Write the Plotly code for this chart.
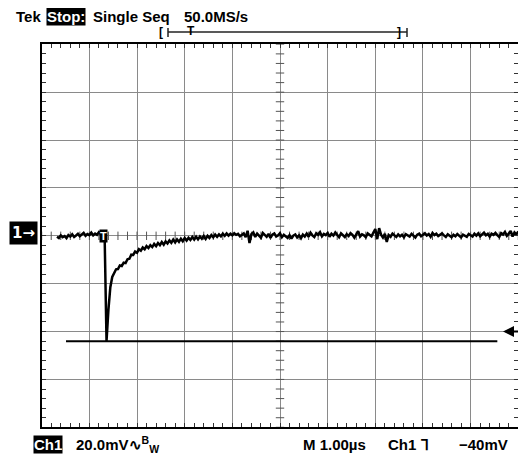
import numpy as np
import plotly.graph_objects as go

# page is shown with an 8 px body margin; lay the figure out in window pixels
OX, OY = 8, 8
WIN_W, WIN_H = 526, 457
W, H = WIN_W - OX, WIN_H - OY

# ---- scope settings / data ----
US_PER_DIV = 1.0      # horizontal: 1.00 us / div, 10 divisions
MV_PER_DIV = 20.0     # vertical: 20.0 mV / div, 8 divisions
X_DIVS = 10
Y_DIVS = 8

T0 = 0.32             # time of first displayed sample (us from left edge)
DT = 0.04             # displayed sample interval (us)

ch1_mv = [
    -0.4, -0.9, 0.2, -0.6, -0.1, -1.0, 0.3, -0.3, 0.6, -0.5,
    0.1, 0.8, -0.2, 0.5, 1.2, 0.0, 0.7, 0.3, 1.3, 0.2,
    0.9, 0.4, 1.5, 0.6, 0.9, 0.5,
    -44.0, -31.0, -21.5, -17.2, -15.8, -14.0, -13.9, -12.4, -12.6, -11.2,
    -11.4, -9.8, -9.6, -7.9, -8.0, -6.6, -7.1, -5.6, -6.2, -4.9,
    -5.6, -4.3, -5.1, -3.9, -4.7, -3.4, -4.3, -3.0, -3.9, -2.6,
    -3.7, -2.3, -3.2, -1.9, -2.9, -1.6, -2.8, -1.5, -2.5, -1.2,
    -2.3, -0.9, -2.0, -0.8, -1.7, -0.5, -1.6, -0.4, -1.5, -0.3,
    -1.2, -0.1, -1.3, 0.0, -0.9, 0.3, -0.6, 0.5, -0.4, 0.6,
    -0.2, 0.9, 0.0, 1.0, 0.1,
    0.9, 0.2, 1.1, 0.4, 0.8, -0.2, 0.6, 1.0, -0.6, 2.1,
    -3.0, 0.7, 1.4, -0.5, 0.9, 0.1, -0.8, 1.2, 0.3, -0.4,
    0.8, -0.9, 0.5, 1.0, -0.3, 0.2, 1.1, -0.6, 0.4, -0.2,
    -0.9, 0.3, -1.2, 0.1, 0.6, -0.7, 0.2, -1.0, 0.5, -0.3,
    0.9, -0.4, 1.3, 0.2, -0.5, 1.1, 0.4, 1.5, -0.2, 0.8,
    0.3, 1.2, -0.4, 0.9, 0.1, 1.4, 0.5, -0.6, 1.0, 0.2,
    -0.5, 0.7, -0.1, 1.1, 0.4, -0.8, 0.9, 1.9, -0.3, 0.6,
    0.2, -0.6, 1.0, 0.4, -0.2, 1.3, 2.8, -1.4, 3.2, 0.5,
    -0.7, 0.8, -2.6, 0.3, -0.4, 0.9, 0.1, -0.5, 0.6, -0.2,
    0.4, -0.6, 0.7, 0.0, -0.3, 0.8, 0.2, -0.7, 0.5, 0.9,
    -0.2, 0.6, 1.1, 0.1, 0.7, -0.4, 1.2, 0.3, 0.9, -0.1,
    0.5, 1.0, 0.2, -0.5, 0.6, 0.1, -0.6, 0.4, -0.2, 0.7,
    0.0, -0.7, 0.5, 0.2, -0.4, 0.8, 0.3, -0.3, 0.9, 0.1,
    1.0, -0.2, 0.6, 1.3, 0.2, 0.8, -0.4, 0.9, 0.4, 1.2,
    0.3, -0.5, 1.1, 0.5, 1.6, 0.0, 0.9, 2.0, -0.3, 1.4,
    0.6, 1.8,
]
t_us = T0 + DT * np.arange(len(ch1_mv))

trigger_t_us = 1.29
trigger_level_mv = -40
cursor_mv = -44
cursor_t_us = [0.51, 9.56]

header_texts = ["Tek", "Stop:", "Single Seq", "50.0MS/s"]
footer_texts = ["Ch1", "20.0mV", "M 1.00µs", "Ch1", "−40mV"]

# ---- figure ----
FONT = "Liberation Sans, Arial, Helvetica, sans-serif"
x_max = X_DIVS * US_PER_DIV
y_half = Y_DIVS / 2 * MV_PER_DIV


def px(x):
    return (x - OX) / W


def py(y):
    return 1 - (y - OY) / H


fig = go.Figure()

# centre graticule tick marks
cx = np.arange(0, X_DIVS * 5 + 1) * US_PER_DIV / 5
cy = (np.arange(0, Y_DIVS * 5 + 1) - Y_DIVS * 5 / 2) * MV_PER_DIV / 5
fig.add_trace(go.Scatter(x=cx, y=np.zeros_like(cx), mode="markers", hoverinfo="skip",
                         marker=dict(symbol="line-ns", size=6, line=dict(color="#555", width=1))))
fig.add_trace(go.Scatter(x=np.full_like(cy, x_max / 2), y=cy, mode="markers", hoverinfo="skip",
                         marker=dict(symbol="line-ew", size=6, line=dict(color="#555", width=1))))

# cursor line
fig.add_trace(go.Scatter(x=cursor_t_us, y=[cursor_mv, cursor_mv], mode="lines",
                         line=dict(color="black", width=2), hoverinfo="skip"))
# waveform
fig.add_trace(go.Scatter(x=t_us, y=ch1_mv, mode="lines",
                         line=dict(color="black", width=2.5), hoverinfo="skip"))

axis_common = dict(showgrid=True, gridcolor="#8a8a8a", gridwidth=1, zeroline=False,
                   showline=True, linecolor="black", linewidth=2, mirror="ticks",
                   ticks="inside", ticklen=4, tickcolor="#333", showticklabels=False,
                   fixedrange=True)

fig.update_layout(
    width=W, height=H, margin=dict(l=0, r=0, t=0, b=0),
    paper_bgcolor="white", plot_bgcolor="white", showlegend=False,
    xaxis=dict(domain=[px(41.7), px(518.3)], range=[0, x_max], tick0=0, dtick=US_PER_DIV,
               minor=dict(dtick=US_PER_DIV / 5, ticks="inside", ticklen=4, tickcolor="#333", showgrid=False),
               **axis_common),
    yaxis=dict(domain=[py(427.3), py(44.3)], range=[-y_half, y_half], tick0=0, dtick=MV_PER_DIV,
               minor=dict(dtick=MV_PER_DIV / 5, ticks="inside", ticklen=4, tickcolor="#333", showgrid=False),
               **axis_common),
)


def ann(text, x, y, size=15, color="black", bg=None, xanchor="left", pad=1, family=FONT):
    d = dict(text=text, x=px(x), y=py(y), xref="paper", yref="paper", xanchor=xanchor,
             yanchor="middle", showarrow=False, borderpad=pad,
             font=dict(family=family, size=size, color=color))
    if bg:
        d["bgcolor"] = bg
    return d


anns = [
    ann("<b>%s</b>" % header_texts[0], 14, 17),
    ann("<b>%s</b>" % header_texts[1], 46, 17, color="white", bg="black", pad=0),
    ann("<b>%s</b>" % header_texts[2], 91, 17),
    ann("<b>%s</b>" % header_texts[3], 182, 17),
    ann("<b>[</b>", 161, 32, size=12, xanchor="center"),
    ann("<b>T</b>", 191, 31, size=12, xanchor="center"),
    ann("<b>]</b>", 399, 32, size=12, xanchor="center"),
    ann("<b>1→</b>", 23.5, 233.5, size=15, color="white", bg="black", xanchor="center", pad=2,
        family="DejaVu Sans, Liberation Sans, sans-serif"),
    ann("<b>%s</b>" % footer_texts[0], 33, 444.5, color="white", bg="black", pad=0),
    ann("<b>%s∿<sup>B</sup><sub>W</sub></b>" % footer_texts[1], 74, 444.5),
    ann("<b>%s</b>" % footer_texts[2], 301, 444.5),
    ann("<b>%s ⅂</b>" % footer_texts[3], 386, 444.5),
    ann("<b>%s</b>" % footer_texts[4], 457, 444.5),
    # trigger position marker
    dict(text="<b>T</b>", x=trigger_t_us, y=0, xref="x", yref="y", showarrow=False,
         xanchor="center", yanchor="middle", bgcolor="black", borderpad=0,
         font=dict(family=FONT, size=11, color="white")),
    # trigger level arrow
    dict(text=" ", x=px(503), y=trigger_level_mv, xref="paper", yref="y", showarrow=True,
         ax=17, ay=0, arrowhead=2, arrowsize=1.1, arrowwidth=2, arrowcolor="black",
         font=dict(size=1)),
]
fig.update_layout(annotations=anns)

shapes = [
    dict(type="line", xref="paper", yref="paper", x0=px(168), x1=px(407), y0=py(32), y1=py(32),
         line=dict(color="#222", width=1.5)),
    dict(type="line", xref="paper", yref="paper", x0=px(168), x1=px(168), y0=py(28), y1=py(37),
         line=dict(color="#222", width=1.5)),
    dict(type="line", xref="paper", yref="paper", x0=px(407), x1=px(407), y0=py(28), y1=py(37),
         line=dict(color="#222", width=1.5)),
]
fig.update_layout(shapes=shapes)

fig.write_html("out.html", config={"displayModeBar": False})
